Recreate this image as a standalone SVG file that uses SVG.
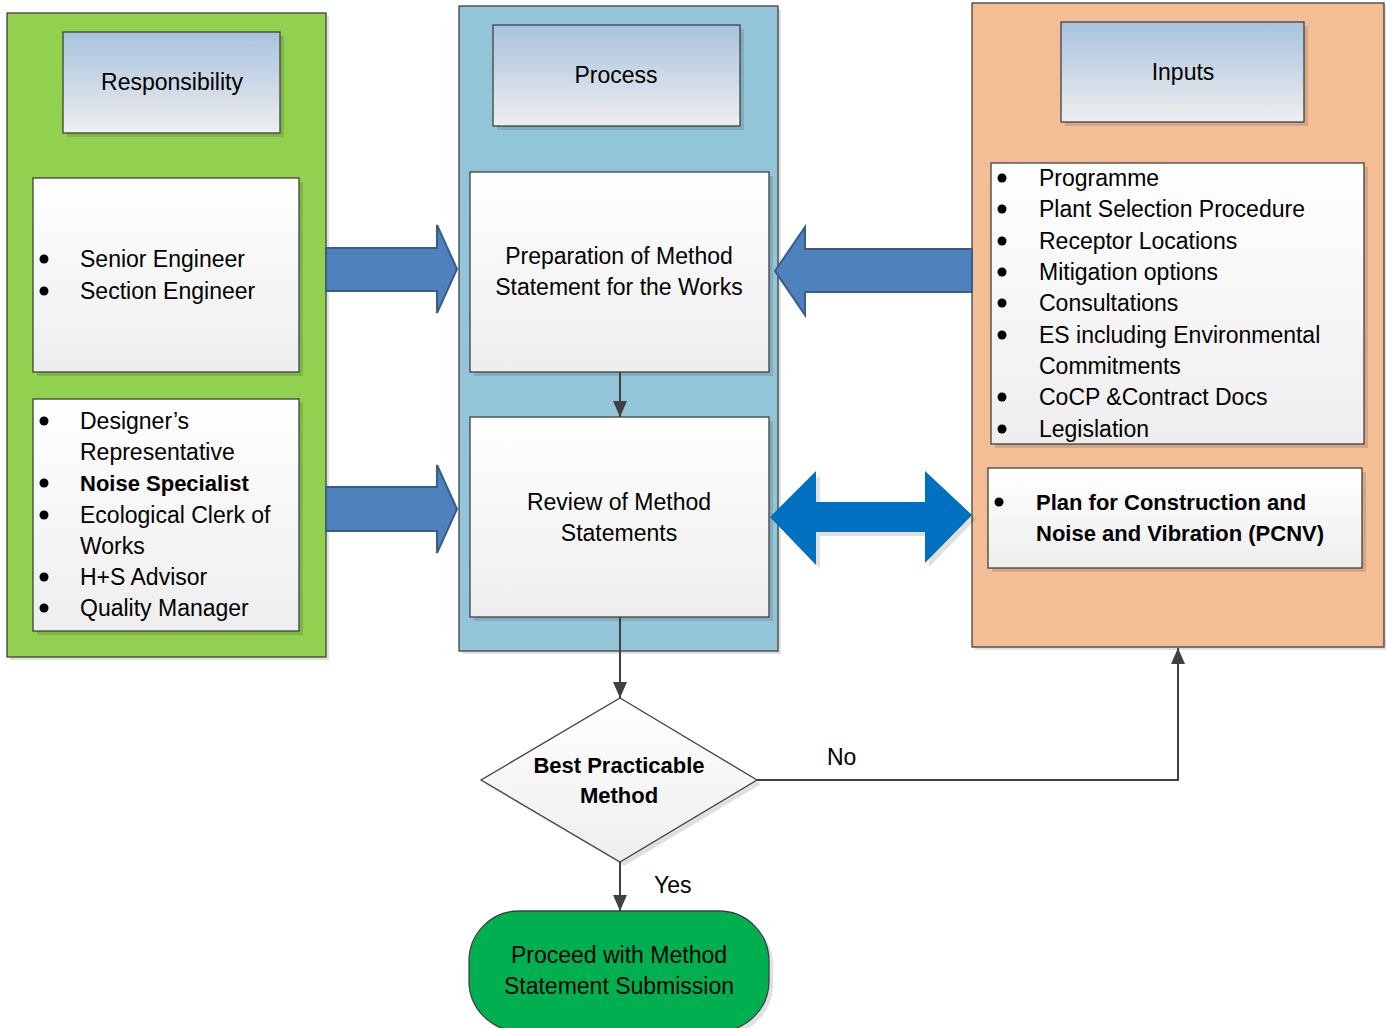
<svg xmlns="http://www.w3.org/2000/svg" width="1386" height="1028" viewBox="0 0 1386 1028">
<defs>
<linearGradient id="hdr" x1="0" y1="0" x2="0" y2="1"><stop offset="0" stop-color="#a8c3de"/><stop offset="1" stop-color="#eeeeee"/></linearGradient>
<linearGradient id="box" x1="0" y1="0" x2="0" y2="1"><stop offset="0" stop-color="#ffffff"/><stop offset="1" stop-color="#eeeeee"/></linearGradient>
<marker id="ah" markerWidth="16" markerHeight="14" refX="16" refY="7" orient="auto" markerUnits="userSpaceOnUse"><path d="M0,0 L16,7 L0,14 Z" fill="#404040"/></marker>
<style>
.t{font-family:"Liberation Sans",Arial,sans-serif;font-size:23px;fill:#000}
.b{font-weight:bold;font-size:22px}
.m{text-anchor:middle}
.sh{fill:#000;opacity:0.12}
.ln{stroke:#404040;stroke-width:1.3}
.cn{fill:none;stroke:#404040;stroke-width:2}
.ba{fill:#4f81bd;stroke:#385d8a;stroke-width:2}
</style>
</defs>

<g id="responsibility">
<rect class="sh" x="10" y="16" width="319" height="644"/>
<rect x="7" y="13" width="319" height="644" fill="#92d050" class="ln"/>
<rect class="sh" x="67" y="36" width="217" height="101"/>
<rect x="63" y="32" width="217" height="101" fill="url(#hdr)" class="ln"/>
<text class="t m" x="172" y="90">Responsibility</text>
</g>
<g id="resp-box1">
<rect class="sh" x="37" y="182" width="266" height="194"/>
<rect x="33" y="178" width="266" height="194" fill="url(#box)" class="ln"/>
<circle cx="44" cy="259" r="4.5"/><circle cx="44" cy="291" r="4.5"/>
<text class="t" x="80" y="267">Senior Engineer</text>
<text class="t" x="80" y="299">Section Engineer</text>
</g>
<g id="resp-box2">
<rect class="sh" x="37" y="403" width="266" height="232"/>
<rect x="33" y="399" width="266" height="232" fill="url(#box)" class="ln"/>
<circle cx="44" cy="421" r="4.5"/><circle cx="44" cy="483" r="4.5"/><circle cx="44" cy="515" r="4.5"/><circle cx="44" cy="577" r="4.5"/><circle cx="44" cy="608" r="4.5"/>
<text class="t" x="80" y="429">Designer’s</text>
<text class="t" x="80" y="460">Representative</text>
<text class="t b" x="80" y="491">Noise Specialist</text>
<text class="t" x="80" y="523">Ecological Clerk of</text>
<text class="t" x="80" y="554">Works</text>
<text class="t" x="80" y="585">H+S Advisor</text>
<text class="t" x="80" y="616">Quality Manager</text>
</g>

<g id="process">
<rect class="sh" x="462" y="9" width="319" height="645"/>
<rect x="459" y="6" width="319" height="645" fill="#93c5d8" class="ln"/>
<rect class="sh" x="497" y="29" width="247" height="101"/>
<rect x="493" y="25" width="247" height="101" fill="url(#hdr)" class="ln"/>
<text class="t m" x="616" y="83">Process</text>
</g>
<g id="prep">
<rect class="sh" x="474" y="176" width="299" height="200"/>
<rect x="470" y="172" width="299" height="200" fill="url(#box)" class="ln"/>
<text class="t m" x="619" y="264">Preparation of Method</text>
<text class="t m" x="619" y="295">Statement for the Works</text>
</g>
<g id="review">
<rect class="sh" x="474" y="421" width="299" height="200"/>
<rect x="470" y="417" width="299" height="200" fill="url(#box)" class="ln"/>
<text class="t m" x="619" y="510">Review of Method</text>
<text class="t m" x="619" y="541">Statements</text>
</g>

<g id="inputs">
<rect class="sh" x="975" y="6" width="412" height="644"/>
<rect x="972" y="3" width="412" height="644" fill="#f3be95" class="ln"/>
<rect class="sh" x="1065" y="26" width="243" height="100"/>
<rect x="1061" y="22" width="243" height="100" fill="url(#hdr)" class="ln"/>
<text class="t m" x="1183" y="80">Inputs</text>
</g>
<g id="inputs-list">
<rect class="sh" x="995" y="167" width="373" height="281"/>
<rect x="991" y="163" width="373" height="281" fill="url(#box)" class="ln"/>
<circle cx="1002" cy="178" r="4.5"/><circle cx="1002" cy="209" r="4.5"/><circle cx="1002" cy="241" r="4.5"/><circle cx="1002" cy="272" r="4.5"/><circle cx="1002" cy="303" r="4.5"/><circle cx="1002" cy="335" r="4.5"/><circle cx="1002" cy="397" r="4.5"/><circle cx="1002" cy="429" r="4.5"/>
<text class="t" x="1039" y="186">Programme</text>
<text class="t" x="1039" y="217">Plant Selection Procedure</text>
<text class="t" x="1039" y="249">Receptor Locations</text>
<text class="t" x="1039" y="280">Mitigation options</text>
<text class="t" x="1039" y="311">Consultations</text>
<text class="t" x="1039" y="343">ES including Environmental</text>
<text class="t" x="1039" y="374">Commitments</text>
<text class="t" x="1039" y="405">CoCP &amp;Contract Docs</text>
<text class="t" x="1039" y="437">Legislation</text>
</g>
<g id="pcnv">
<rect class="sh" x="992" y="472" width="374" height="100"/>
<rect x="988" y="468" width="374" height="100" fill="url(#box)" class="ln"/>
<circle cx="999" cy="502" r="4.5"/>
<text class="t b" x="1036" y="510">Plan for Construction and</text>
<text class="t b" x="1036" y="541">Noise and Vibration (PCNV)</text>
</g>

<g id="decision">
<polygon class="sh" points="624,702 761,784 624,866 485,784"/>
<polygon points="620,698 757,780 620,862 481,780" fill="url(#box)" class="ln"/>
<text class="t b m" x="619" y="773">Best Practicable</text>
<text class="t b m" x="619" y="803">Method</text>
</g>
<g id="proceed">
<rect class="sh" x="473" y="915" width="300" height="120" rx="50"/>
<rect x="469" y="911" width="300" height="120" rx="50" fill="#00b050" class="ln"/>
<text class="t m" x="619" y="963">Proceed with Method</text>
<text class="t m" x="619" y="994">Statement Submission</text>
</g>

<g id="connectors">
<path class="ba" d="M326,248 H437 V225 L457,269 L437,313 V291 H326 Z"/>
<path class="ba" d="M326,487 H437 V465 L457,509 L437,553 V531 H326 Z"/>
<path class="ba" d="M972,249 H805 V227 L775,271 L805,315 V292 H972 Z"/>
<path d="M774,521 L820,475 V506 H929 V475 L976,519 L929,567 V536 H820 V569 Z" fill="#000" opacity="0.12"/>
<path d="M770,517 L816,471 V502 H925 V471 L972,515 L925,563 V532 H816 V565 Z" fill="#0070c0"/>
<line class="cn" x1="620" y1="372" x2="620" y2="417" marker-end="url(#ah)"/>
<line class="cn" x1="620" y1="617" x2="620" y2="698" marker-end="url(#ah)"/>
<line class="cn" x1="620" y1="862" x2="620" y2="911" marker-end="url(#ah)"/>
<polyline class="cn" points="757,780 1178,780 1178,648" marker-end="url(#ah)"/>
<text class="t" x="827" y="765">No</text>
<text class="t" x="654" y="893">Yes</text>
</g>
</svg>
